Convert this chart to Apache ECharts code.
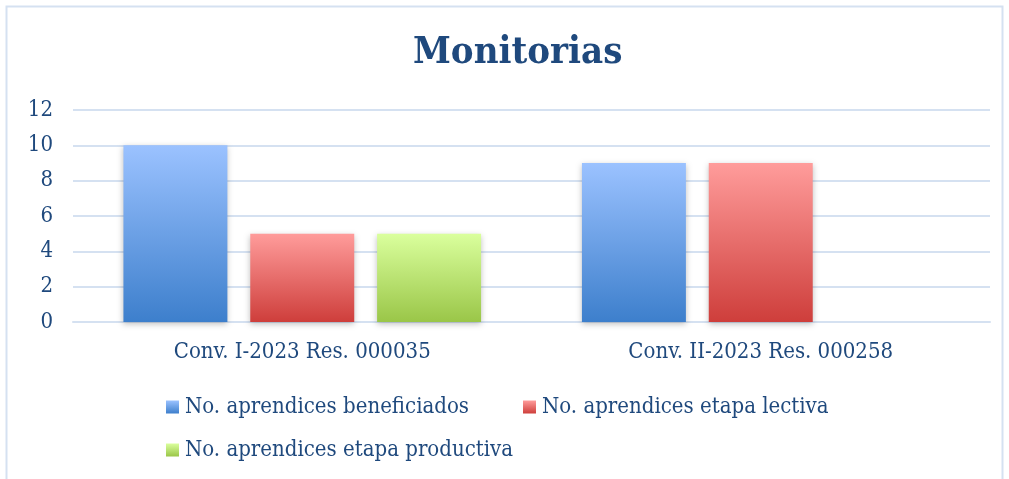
<!DOCTYPE html>
<html>
<head>
<meta charset="utf-8">
<script src="https://cdn.jsdelivr.net/npm/echarts@6/dist/echarts.min.js"></script>
<style>
  html, body { margin: 0; padding: 0; background: #fff; }
  #chart { width: 1009px; height: 479px; }
</style>
</head>
<body>
<div id="chart"></div>
<script>
// datos
const categories = ['Conv. I-2023 Res. 000035', 'Conv. II-2023 Res. 000258']
const seriesNames = [
  'No. aprendices beneficiados',
  'No. aprendices etapa lectiva',
  'No. aprendices etapa productiva'
]
const beneficiados = [10, 9]
const lectiva = [5, 9]
const productiva = [5, 0]
const yTicks = [0, 2, 4, 6, 8, 10, 12]

const FONT = '"DejaVu Serif Condensed", "DejaVu Serif", serif'
const TEXT_COLOR = '#1F497D'

// degradado vertical para cada serie
function grad(top, bottom) {
  return new echarts.graphic.LinearGradient(0, 0, 0, 1, [
    { offset: 0, color: top },
    { offset: 1, color: bottom }
  ])
}

const palette = [
  grad('#9BC2FF', '#3D7FCC'),
  grad('#FF9C9B', '#CE3E3B'),
  grad('#DAFF9D', '#9AC648')
]

function barSeries(name, data, idx) {
  return {
    name: name,
    type: 'bar',
    data: data,
    barGap: '22%',
    barCategoryGap: '22%',
    itemStyle: {
      color: palette[idx],
      shadowColor: 'rgba(0,0,0,0.25)',
      shadowBlur: 6,
      shadowOffsetY: 2
    }
  }
}

// una leyenda por elemento para fijar su posición
function legendItem(name, left, top) {
  return {
    data: [name],
    left: left,
    top: top,
    padding: 0,
    icon: 'rect',
    itemWidth: 13,
    itemHeight: 13,
    textStyle: { fontFamily: FONT, fontSize: 22, color: TEXT_COLOR, padding: [0, 0, 0, 1] }
  }
}

const chart = echarts.init(document.getElementById('chart'), null, { renderer: 'canvas' })

chart.setOption({
  animation: false,
  textStyle: { fontFamily: FONT },
  title: {
    text: 'Monitorias',
    left: 408,
    top: 29,
    textStyle: { fontFamily: FONT, fontSize: 38, fontWeight: 'bold', color: TEXT_COLOR }
  },
  graphic: [{
    type: 'rect',
    shape: { x: 6.5, y: 6.5, width: 996, height: 490 },
    style: { fill: 'none', stroke: '#D5E1F1', lineWidth: 2 },
    silent: true
  }],
  legend: [
    legendItem(seriesNames[0], 166, 396),
    legendItem(seriesNames[1], 523, 396),
    legendItem(seriesNames[2], 166, 439)
  ],
  grid: { left: 73, right: 19, top: 110, height: 212, containLabel: false },
  xAxis: {
    type: 'category',
    data: categories,
    axisLine: { lineStyle: { color: '#D5E1F1', width: 2 } },
    axisTick: { show: false },
    axisLabel: { fontFamily: FONT, fontSize: 22, color: TEXT_COLOR, margin: 19 }
  },
  yAxis: {
    type: 'value',
    min: yTicks[0],
    max: yTicks[yTicks.length - 1],
    interval: 2,
    axisLine: { show: false },
    axisTick: { show: false },
    splitLine: { lineStyle: { color: '#D5E1F1', width: 2 } },
    axisLabel: { fontFamily: FONT, fontSize: 22, color: TEXT_COLOR, margin: 20 }
  },
  series: [
    barSeries(seriesNames[0], beneficiados, 0),
    barSeries(seriesNames[1], lectiva, 1),
    barSeries(seriesNames[2], productiva, 2)
  ]
})
</script>
</body>
</html>
